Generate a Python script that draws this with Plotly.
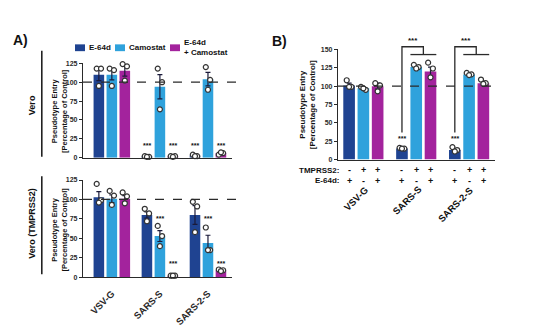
import plotly.graph_objects as go

W, H = 550, 327

# ---------------- data ----------------
groups = ["VSV-G", "SARS-S", "SARS-2-S"]
series_names = ["E-64d", "Camostat", "E-64d + Camostat"]
legend_labels = ["E-64d", "Camostat", "E-64d<br>+ Camostat"]
colors = ["#1f4391", "#2fa2dc", "#a3239d"]

# Panel A, Vero
vero_e64d = [110, 2, 3]
vero_e64d_err = [8, 0.5, 1]
vero_e64d_pts = [[118, 118, 95], [2, 1, 1], [4, 2, 2]]
vero_cam = [110, 94, 104]
vero_cam_err = [7, 16, 9]
vero_cam_pts = [[118, 116, 95], [118, 100, 64], [120, 103, 90]]
vero_comb = [115, 2, 6]
vero_comb_err = [7, 0.5, 1]
vero_comb_pts = [[124, 121, 102], [2, 2, 1], [4, 6, 7]]

# Panel A, Vero (TMPRSS2)
tmp_e64d = [103, 80, 80]
tmp_e64d_err = [7, 4, 12]
tmp_e64d_pts = [[120, 99, 96], [88, 82, 72], [97, 91, 58]]
tmp_cam = [101, 53, 44]
tmp_cam_err = [5, 7, 10]
tmp_cam_pts = [[111, 105, 93], [66, 53, 40], [64, 35, 35]]
tmp_comb = [101, 2, 9]
tmp_comb_err = [4, 0.3, 1]
tmp_comb_pts = [[109, 104, 95], [2, 2, 2], [10, 9, 8]]

# Panel B
b_bar1 = [101, 15, 13]
b_bar1_err = [3, 1, 2]
b_bar1_pts = [[108, 99, 99], [16, 15, 15], [17, 13, 11]]
b_bar2 = [97, 126, 116]
b_bar2_err = [2, 2, 1]
b_bar2_pts = [[99, 95, 97], [129, 126, 124], [118, 116, 115]]
b_bar3 = [100, 120, 104]
b_bar3_err = [4, 6, 3]
b_bar3_pts = [[104, 101, 93], [132, 124, 112], [109, 104, 103]]
b_tmprss2 = ["-", "+", "+"]
b_e64d = ["+", "-", "+"]

# significance marks: (group index, bar index, height)
sig_vero = [(1, 0, 16), (1, 2, 16), (2, 0, 16), (2, 2, 16)]
sig_tmp = [(1, 1, 75), (1, 2, 18), (2, 1, 75), (2, 2, 18)]
sig_b = [(1, 0, 29), (2, 0, 29)]
bracket_b = [1, 2]   # groups with bracket comparison

yticks_a = [0, 25, 50, 75, 100, 125]
yticks_b = [0, 25, 50, 75, 100, 125, 150]

# ---------------- style ----------------
FONT = "Arial, Liberation Sans, Helvetica, sans-serif"
INK = "#2a2a2a"
offsets = [-0.27, 0.0, 0.27]
barw = 0.22
jitter = [-0.045, 0.045, 0.0]


def px(x):
    return x / W


def py(y):
    return 1 - y / H


fig = go.Figure()


def add_panel(xa, ya, means, errs, pts):
    for k in range(3):
        xs = [g + offsets[k] for g in range(len(groups))]
        fig.add_trace(go.Bar(
            x=xs, y=means[k], width=barw, name=series_names[k],
            marker=dict(color=colors[k], line=dict(width=0)),
            error_y=dict(type="data", array=errs[k], color="#1a1a3a",
                         thickness=1.2, width=2.5),
            xaxis=xa, yaxis=ya, showlegend=False,
        ))
        dx, dy = [], []
        for g in range(len(groups)):
            for j, v in enumerate(pts[k][g]):
                dx.append(g + offsets[k] + jitter[j])
                dy.append(v)
        fig.add_trace(go.Scatter(
            x=dx, y=dy, mode="markers", xaxis=xa, yaxis=ya, showlegend=False,
            marker=dict(symbol="circle", size=5, color="white",
                        line=dict(color="#333333", width=1.2)),
            cliponaxis=False, hoverinfo="skip",
        ))


add_panel("x", "y", [vero_e64d, vero_cam, vero_comb],
          [vero_e64d_err, vero_cam_err, vero_comb_err],
          [vero_e64d_pts, vero_cam_pts, vero_comb_pts])
add_panel("x2", "y2", [tmp_e64d, tmp_cam, tmp_comb],
          [tmp_e64d_err, tmp_cam_err, tmp_comb_err],
          [tmp_e64d_pts, tmp_cam_pts, tmp_comb_pts])
add_panel("x3", "y3", [b_bar1, b_bar2, b_bar3],
          [b_bar1_err, b_bar2_err, b_bar3_err],
          [b_bar1_pts, b_bar2_pts, b_bar3_pts])

tickfont = dict(family=FONT, size=7, color=INK, weight="bold")
axline = dict(showline=True, linecolor=INK, linewidth=1.3, showgrid=False,
              zeroline=False)

fig.update_layout(
    width=W, height=H, margin=dict(l=0, r=0, t=0, b=0),
    paper_bgcolor="white", plot_bgcolor="white",
    barmode="overlay", showlegend=False,
    font=dict(family=FONT, color=INK),
    xaxis=dict(domain=[px(83), px(232)], range=[-0.6, 2.5], anchor="y",
               showticklabels=False, ticks="", **axline),
    yaxis=dict(domain=[py(158), py(61)], range=[0, 125], anchor="x",
               tickvals=yticks_a, ticks="outside", ticklen=3, tickwidth=1.2,
               tickcolor=INK, tickfont=tickfont, **axline),
    xaxis2=dict(domain=[px(83), px(232)], range=[-0.6, 2.5], anchor="y2",
                tickvals=[0, 1, 2], ticktext=groups, tickangle=-45,
                ticks="", ticklabelstandoff=6,
                tickfont=dict(family=FONT, size=9.5, color=INK, weight="bold"),
                **axline),
    yaxis2=dict(domain=[py(281), py(181)], range=[0, 125], anchor="x2",
                tickvals=yticks_a, ticks="outside", ticklen=3, tickwidth=1.2,
                tickcolor=INK, tickfont=tickfont, **axline),
    xaxis3=dict(domain=[px(338), px(495)], range=[-0.48, 2.49], anchor="y3",
                showticklabels=False, ticks="", **axline),
    yaxis3=dict(domain=[py(160), py(46.7)], range=[0, 150], anchor="x3",
                tickvals=yticks_b, ticks="outside", ticklen=3, tickwidth=1.2,
                tickcolor=INK, tickfont=tickfont, **axline),
)

shapes = []
# dashed 100% reference lines
for xa, ya in [("x", "y"), ("x2", "y2"), ("x3", "y3")]:
    shapes.append(dict(type="line", xref=xa + " domain", yref=ya, x0=0, x1=1.03,
                       y0=100, y1=100, layer="above",
                       line=dict(color=INK, width=1.2, dash="dash")))
# cell-line side bars
shapes.append(dict(type="rect", xref="paper", yref="paper", x0=px(41), x1=px(42.6),
                   y0=py(48), y1=py(157), fillcolor="#222222", line=dict(width=0)))
shapes.append(dict(type="rect", xref="paper", yref="paper", x0=px(41), x1=px(42.6),
                   y0=py(177), y1=py(278), fillcolor="#222222", line=dict(width=0)))

ann = []


def text(x, y, s, size=8, xref="paper", yref="paper", angle=0, xanchor="center",
         yanchor="middle", weight="bold", align="center"):
    ann.append(dict(x=x, y=y, xref=xref, yref=yref, text=s, showarrow=False,
                    textangle=angle, xanchor=xanchor, yanchor=yanchor, align=align,
                    font=dict(family=FONT, size=size, color="#111111", weight=weight)))


# bracket comparisons in panel B (y in y3-domain fraction = value / 150)
for g in bracket_b:
    x_left = g + offsets[0]
    x_mid = g + (offsets[1] + offsets[2]) / 2
    top, low, base = 153.6 / 150, 143 / 150, 37 / 150
    shapes.append(dict(type="path", xref="x3", yref="y3 domain",
                       path=f"M {x_left},{base} L {x_left},{top} L {x_mid},{top} L {x_mid},{low}",
                       line=dict(color=INK, width=1.3)))
    shapes.append(dict(type="line", xref="x3", yref="y3 domain",
                       x0=g + offsets[1] - barw / 2, x1=g + offsets[2] + barw / 2,
                       y0=low, y1=low, line=dict(color=INK, width=1.3)))
    text((x_left + x_mid) / 2, 161.5 / 150, "***", size=8, xref="x3",
         yref="y3 domain")

# significance stars
for (g, k, h) in sig_vero:
    text(g + offsets[k], h, "***", size=7, xref="x", yref="y")
for (g, k, h) in sig_tmp:
    text(g + offsets[k], h, "***", size=7, xref="x2", yref="y2")
for (g, k, h) in sig_b:
    text(g + offsets[k], h, "***", size=7, xref="x3", yref="y3")

# panel letters
text(px(20), py(37), "A)", size=14)
text(px(280), py(38), "B)", size=14)

# cell-line labels
text(px(32), py(104), "Vero", size=9, angle=-90)
text(px(32), py(226), "Vero (TMPRSS2)", size=9, angle=-90)

# y-axis titles
ytitle = "Pseudotype Entry<br>[Percentage of Control]"
text(px(60), py(110), ytitle, size=7.5, angle=-90)
text(px(60), py(232), ytitle, size=7.5, angle=-90)
text(px(307), py(104), ytitle, size=8, angle=-90)

# legend (manual)
sw_x = [75, 115, 170]
for k in range(3):
    shapes.append(dict(type="rect", xref="paper", yref="paper",
                       x0=px(sw_x[k]), x1=px(sw_x[k] + 10), y0=py(48.5), y1=py(41.5),
                       fillcolor=colors[k], line=dict(width=0)))
    text(px(sw_x[k] + 12), py(45), legend_labels[k], size=8, xanchor="left",
         align="left")

# panel B condition rows
text(px(341), py(171), "TMPRSS2:", size=8, xanchor="right")
text(px(341), py(182), "E-64d:", size=8, xanchor="right")
unit_px = (495 - 338) / (2.49 + 0.48)
for g in range(len(groups)):
    for k in range(3):
        text(g + offsets[k], py(171), b_tmprss2[k], size=9, xref="x3")
        text(g + offsets[k], py(182), b_e64d[k], size=9, xref="x3")
    # rotated label: upper-right end just right of the group centre, at y=189px
    half = 0.354 * 6.0 * len(groups[g])
    text(g + 0.06 - half / unit_px, py(189 + half), groups[g], size=9.5,
         xref="x3", angle=-45)

fig.update_layout(shapes=shapes, annotations=ann)
fig.write_html("out.html")
